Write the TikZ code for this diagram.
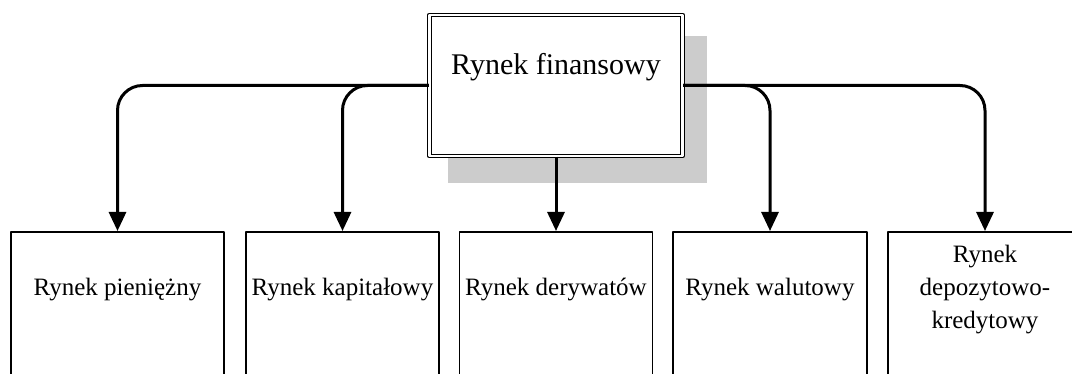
\documentclass[tikz,border=0pt]{standalone}
\usepackage{fontspec}
\setmainfont{Liberation Serif}
\usetikzlibrary{arrows.meta}
\begin{document}
\begin{tikzpicture}[x=1pt,y=-1pt,>={Triangle[width=17pt,length=19pt]}, font=\fontsize{25}{33}\selectfont, line join=round,
	topbox/.style={draw,double,double distance=2.5pt,line width=1.2pt,fill=white,minimum width=253pt,minimum height=141pt,font=\fontsize{30}{36}\selectfont,text height=21pt,text depth=43pt},
	marketbox/.style={draw,line width=1.6pt,fill=white,anchor=north,minimum height=170pt,text depth=59pt,align=center,inner sep=0pt},
	conn/.style={->,line width=3pt,rounded corners=25pt}]
			\useasboundingbox (0,0) rectangle (1072,374);
			\clip (0,0) rectangle (1072,374);
			\fill[black!20] (448,36) rectangle (707,183);
			\node[topbox] (RF) at (556,85.5) {Rynek finansowy};
			\foreach \n/\x/\w/\t in {RP/117.5/213/Rynek pieniężny,RK/342.5/193/Rynek kapitałowy,RD/556/193/Rynek derywatów,RW/770/194/Rynek walutowy,RDK/985/194/{Rynek\\depozytowo-\\kredytowy}}
			\node[marketbox,minimum width=\w pt] (\n) at (\x,231) {\t};
			\foreach \a/\b in {west/RP,west/RK,east/RW,east/RDK} \draw[conn] (RF.\a) -| (\b.north);
			\draw[conn] (RF.south) -- (RD.north);
			\end{tikzpicture}
\end{document}
